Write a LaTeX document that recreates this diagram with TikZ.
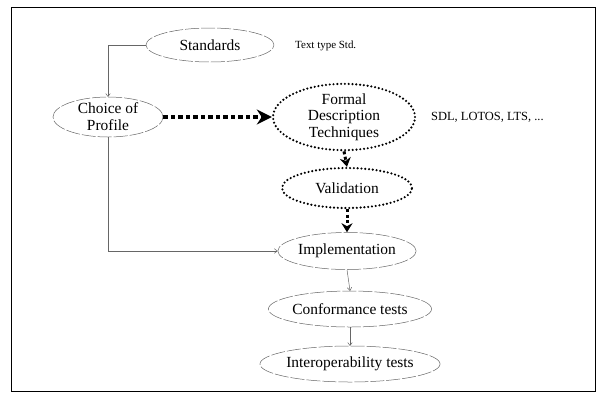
\documentclass[tikz,border=0pt]{standalone}
\usepackage{fontspec}
\setmainfont{Liberation Serif}
\usetikzlibrary{shapes.geometric,arrows.meta}

\tikzset{
	proc/.style={ellipse,draw=black!60,line width=.5bp,dash pattern=on 14bp off 2bp,inner sep=0pt,font=\fontsize{15.5}{17}\selectfont,align=center},
	fdt/.style={ellipse,draw=black,line width=2.4bp,dash pattern=on 0bp off 3.8bp,line cap=round,inner sep=0pt,font=\fontsize{15.5}{16.5}\selectfont,align=center},
	flow/.style={draw=black!60,line width=.5bp,-{To[length=3.5bp,width=5bp]}},
	bigflow/.style={draw=black,line width=4.5bp,dash pattern=on 4.5bp off 3bp,-{Stealth[length=15bp,width=15bp]}},
	smallflow/.style={draw=black,line width=3bp,dash pattern=on 3bp off 2.5bp,-{Stealth[length=9bp,width=11bp]}},
	side/.style={anchor=west,inner sep=0pt}
}

\begin{document}
\begin{tikzpicture}[x=1bp,y=-1bp]
	
	\useasboundingbox (0,0) rectangle (597,394);
	\draw[line width=1bp] (11,7) rectangle (595,391);

	\node[proc,minimum width=128bp,minimum height=34bp] (std) at (210,45) {Standards};
	\node[proc,minimum width=110bp,minimum height=40bp] (cho) at (108,117) {Choice of\\Profile};
	\node[fdt,minimum width=142bp,minimum height=66bp] (fdt) at (344,117) {Formal\\Description\\Techniques};
	\node[fdt,minimum width=130bp,minimum height=40bp] (val) at (347,188) {Validation};
	\node[proc,minimum width=123bp,minimum height=37bp] (imp) at (347,251) {Implementation};
	\node[proc,minimum width=135bp,minimum height=36bp] (con) at (350,309) {Conformance tests};
	\node[proc,minimum width=135bp,minimum height=36bp] (iop) at (350,364) {Interoperability tests};

	\node[side,font=\fontsize{11}{13}\selectfont] (txtstd) at (295,46) {Text type Std.};
	\node[side,font=\fontsize{12.5}{14}\selectfont] (txtfdt) at (431,117) {SDL, LOTOS, LTS, ...};

	\draw[flow] (std.west) -| (cho.north);
	\draw[flow] (cho.south) |- (imp.west);
	\draw[bigflow] (cho.east) -- (fdt.west);
	\draw[smallflow] (fdt.south) -- (val.north);
	\draw[smallflow] (val.south) -- (imp.north);
	\draw[flow] (imp.south) -- (con.north);
	\draw[flow] (con.south) -- (iop.north);
	
\end{tikzpicture}
\end{document}
